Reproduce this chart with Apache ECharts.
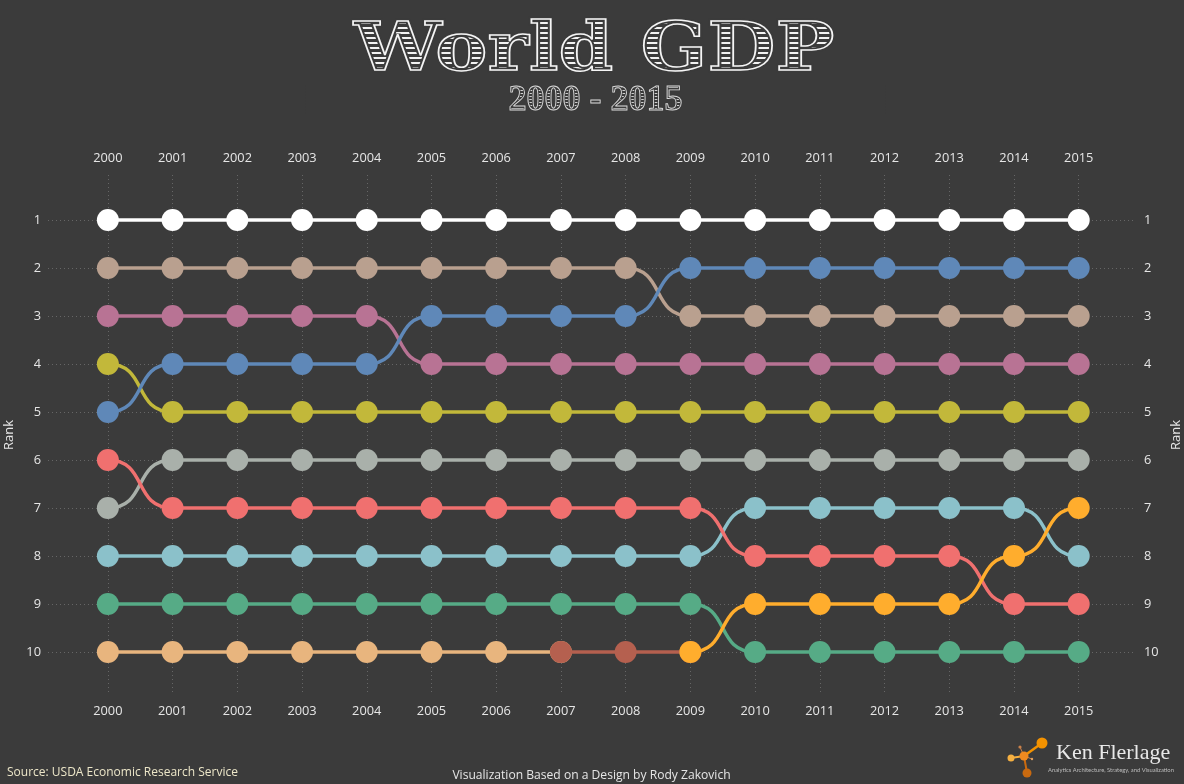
<!DOCTYPE html>
<html>
<head>
<meta charset="utf-8">
<style>html,body{margin:0;padding:0;background:#3b3b3b;overflow:hidden}#c{width:1184px;height:784px}</style>
<script src="https://cdn.jsdelivr.net/npm/echarts@6/dist/echarts.min.js"></script>
</head>
<body>
<div id="c"></div>
<script>
const years = [2000,2001,2002,2003,2004,2005,2006,2007,2008,2009,2010,2011,2012,2013,2014,2015];
const rankTicks = [1,2,3,4,5,6,7,8,9,10];
const _ = null;
const greenRanks  = [9,9,9,9,9,9,9,9,9,9,10,10,10,10,10,10];
const sandRanks   = [10,10,10,10,10,10,10,10,_,_,_,_,_,_,_,_];
const brickRanks  = [_,_,_,_,_,_,_,10,10,10,_,_,_,_,_,_];
const tealRanks   = [8,8,8,8,8,8,8,8,8,8,7,7,7,7,7,8];
const grayRanks   = [7,6,6,6,6,6,6,6,6,6,6,6,6,6,6,6];
const redRanks    = [6,7,7,7,7,7,7,7,7,7,8,8,8,8,9,9];
const yellowRanks = [4,5,5,5,5,5,5,5,5,5,5,5,5,5,5,5];
const pinkRanks   = [3,3,3,3,3,4,4,4,4,4,4,4,4,4,4,4];
const tanRanks    = [2,2,2,2,2,2,2,2,2,3,3,3,3,3,3,3];
const blueRanks   = [5,4,4,4,4,3,3,3,3,2,2,2,2,2,2,2];
const whiteRanks  = [1,1,1,1,1,1,1,1,1,1,1,1,1,1,1,1];
const orangeRanks = [_,_,_,_,_,_,_,_,_,10,9,9,9,9,8,7];

const lines = [
  ['green', greenRanks, '#56ab86'],
  ['sand', sandRanks, '#e8b57e'],
  ['brick', brickRanks, '#b5604f'],
  ['teal', tealRanks, '#8bc1ca'],
  ['gray', grayRanks, '#a9b0aa'],
  ['yellow', yellowRanks, '#c2b83a'],
  ['red', redRanks, '#f0706f'],
  ['pink', pinkRanks, '#b87394'],
  ['tan', tanRanks, '#b9a08f'],
  ['blue', blueRanks, '#5f88b8'],
  ['white', whiteRanks, '#ffffff'],
  ['orange', orangeRanks, '#ffad2d']
];

const bg = '#3b3b3b';
const chart = echarts.init(document.getElementById('c'), null, {renderer:'canvas'});
const tickColor = '#e6e6e6';
const tickFont = {fontFamily:'Open Sans', fontSize:12.8, color:tickColor};
const dotted = {show:true, lineStyle:{color:'#666666', width:1, type:[1,3]}};
const X = {min:1999.075, max:2015.87};
const Y = {min:0.0625, max:10.896};
const xAxisBase = (position, withSplit, margin) => ({
  type:'value', position, min:X.min, max:X.max,
  axisLine:{show:false},
  axisTick:{show:false, customValues:years},
  axisLabel:Object.assign({show:true, margin, customValues:years, formatter:v=>String(v)}, tickFont),
  splitLine: withSplit ? dotted : {show:false}
});
const yAxisBase = (position, withSplit, gap, margin) => ({
  type:'value', position, inverse:true, min:Y.min, max:Y.max,
  name:'Rank', nameLocation:'middle', nameGap:gap, nameRotate:90,
  nameTextStyle:{fontFamily:'Open Sans', fontSize:13, color:tickColor, padding:[0,0,5,0]},
  axisLine:{show:false},
  axisTick:{show:false, customValues:rankTicks},
  axisLabel:Object.assign({show:true, margin, customValues:rankTicks, formatter:v=>String(v)}, tickFont),
  splitLine: withSplit ? dotted : {show:false}
});

function rankSeries(name, ranks, color) {
  const pts = years.map((y,i)=>[y,ranks[i]]).filter(d=>d[1]!==null);
  return {
    name, type:'custom', silent:true, clip:false,
    data: pts,
    encode:{x:0, y:1},
    renderItem(params, api) {
      const i = params.dataIndex;
      const a = api.coord([pts[i][0], pts[i][1]]);
      const children = [];
      if (i + 1 < pts.length) {
        const b = api.coord([pts[i+1][0], pts[i+1][1]]);
        const d = (b[0]-a[0]) * 0.62;
        children.push({type:'bezierCurve',
          shape:{x1:a[0],y1:a[1],x2:b[0],y2:b[1],cpx1:a[0]+d,cpy1:a[1],cpx2:b[0]-d,cpy2:b[1]},
          style:{stroke:color,lineWidth:3.5,fill:null}});
      }
      children.push({type:'circle', shape:{cx:a[0],cy:a[1],r:11}, style:{fill:color}});
      return {type:'group', children};
    }
  };
}

// Engraved headline: solid text, background-coloured bands over it, a wide background outline
// that keeps the hatching inside the letters, and a thin light outline on top.
function engraved(text, font, x, y, scaleX, top, bottom, period, gap, hatchCol, lineCol, inset, lineW) {
  const base = {text, font, textAlign:'center', textVerticalAlign:'bottom'};
  const items = [{type:'text', silent:true, x, y, scaleX, style:Object.assign({}, base, {fill:hatchCol})}];
  for (let b = top; b < bottom; b += period) {
    items.push({type:'rect', silent:true, shape:{x:x-290, y:b, width:580, height:gap}, style:{fill:bg}});
  }
  items.push({type:'text', silent:true, x, y, scaleX, style:Object.assign({}, base, {fill:'none', stroke:bg, lineWidth:inset})});
  items.push({type:'text', silent:true, x, y, scaleX, style:Object.assign({}, base, {fill:'none', stroke:lineCol, lineWidth:lineW})});
  return items;
}

const logoOrange = '#f39200';
chart.setOption({
  backgroundColor:bg,
  animation:false,
  grid:{left:48, right:49, top:175, bottom:89, outerBoundsMode:'none'},
  xAxis:[xAxisBase('bottom',true,10), xAxisBase('top',false,10)],
  yAxis:[yAxisBase('left',true,26,7), yAxisBase('right',false,34,9)],
  series: lines.map(([name, ranks, color]) => rankSeries(name, ranks, color)),
  graphic:[].concat(
    engraved('World GDP', 'bold 67px "DejaVu Serif"', 594, 86, 1.169, 19, 81, 5, 3, '#f2f2f2', '#f5f5f5', 5, 1.5),
    engraved('2000 - 2015', 'bold 36px "Liberation Serif"', 595.5, 118.5, 1, 85, 115, 3, 2, '#cfcfcf', '#d8d8d8', 2.5, 0.9),
    [
    {type:'text', silent:true, x:7, y:773, style:{
      text:'Source: USDA Economic Research Service', font:'12px "Open Sans"', fill:'#ece6c8', textVerticalAlign:'middle'}},
    {type:'text', silent:true, x:591.5, y:776, style:{
      text:'Visualization Based on a Design by Rody Zakovich', font:'12.1px "Open Sans"', fill:'#e6e6e6', textAlign:'center', textVerticalAlign:'middle'}},
    {type:'text', silent:true, x:1056, y:753, style:{
      text:'Ken Flerlage', font:'22px "Liberation Serif"', fill:'#e8e8e8', textVerticalAlign:'middle'}},
    {type:'text', silent:true, x:1048, y:770, style:{
      text:'Analytics Architecture, Strategy, and Visualization', font:'5.8px "Lato"', fill:'#bdbdbd', textVerticalAlign:'middle'}},
    {type:'line', silent:true, shape:{x1:1024,y1:756,x2:1042,y2:743}, style:{stroke:logoOrange,lineWidth:2.5}},
    {type:'line', silent:true, shape:{x1:1024,y1:756,x2:1011,y2:758}, style:{stroke:'#f5b041',lineWidth:2}},
    {type:'line', silent:true, shape:{x1:1024,y1:756,x2:1027,y2:773}, style:{stroke:'#c96a10',lineWidth:2}},
    {type:'line', silent:true, shape:{x1:1024,y1:756,x2:1020,y2:747}, style:{stroke:'#c9814a',lineWidth:1}},
    {type:'line', silent:true, shape:{x1:1024,y1:756,x2:1032,y2:759}, style:{stroke:'#c9814a',lineWidth:1}},
    {type:'circle', silent:true, shape:{cx:1042,cy:743,r:5.5}, style:{fill:logoOrange}},
    {type:'circle', silent:true, shape:{cx:1011,cy:758,r:3.5}, style:{fill:'#f5b041'}},
    {type:'circle', silent:true, shape:{cx:1027,cy:773,r:4.5}, style:{fill:'#c96a10'}},
    {type:'circle', silent:true, shape:{cx:1020,cy:747,r:1.6}, style:{fill:'#c9814a'}},
    {type:'circle', silent:true, shape:{cx:1032,cy:759,r:1.2}, style:{fill:'#e0a060'}},
    {type:'circle', silent:true, shape:{cx:1024,cy:756,r:4.5}, style:{fill:'#f08a20'}}
    ])
});
</script>
</body>
</html>
